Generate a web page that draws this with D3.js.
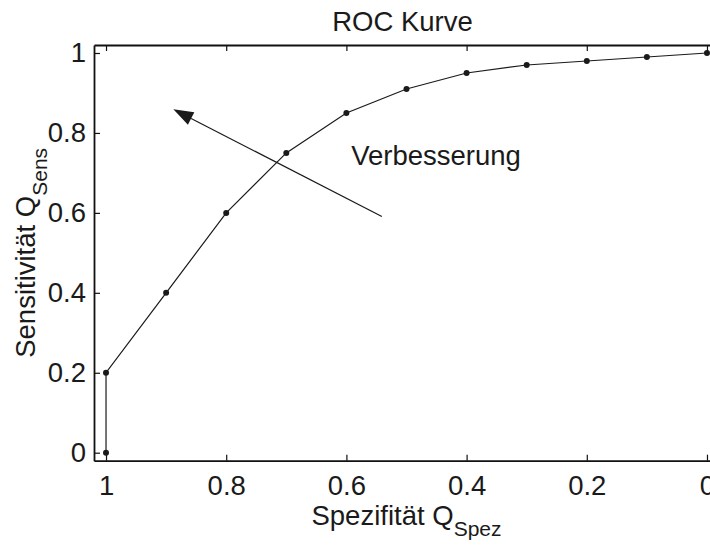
<!DOCTYPE html>
<html>
<head>
<meta charset="utf-8">
<script src="https://cdn.jsdelivr.net/npm/d3@7"></script>
<style>
  body { margin: 0; background: #fff; }
  text { font-family: "Liberation Sans", Arial, Helvetica, sans-serif; fill: #1a1a1a; }
</style>
</head>
<body>
<div id="chart"></div>
<script>
// ROC curve data (Spezifität vs Sensitivität)
let spez = [1, 1, 0.9, 0.8, 0.7, 0.6, 0.5, 0.4, 0.3, 0.2, 0.1, 0];
let sens = [0, 0.2, 0.4, 0.6, 0.75, 0.85, 0.91, 0.95, 0.97, 0.98, 0.99, 1];
let xTicks = [1, 0.8, 0.6, 0.4, 0.2, 0];
let yTicks = [0, 0.2, 0.4, 0.6, 0.8, 1];
let arrowFrom = [0.541, 0.591];
let arrowTo = [0.888, 0.859];
let note = { x: 0.592, y: 0.72, text: "Verbesserung" };

let svgWidth = 710;
let svgHeight = 545;

let margin = { top: 45, right: -9, bottom: 84.3, left: 94 };
let width = svgWidth - margin.left - margin.right;
let height = svgHeight - margin.top - margin.bottom;

let fontBig = "27.5px";
let fontSub = "21px";

let svg = d3.select("#chart")
    .append("svg")
    .attr("width", svgWidth)
    .attr("height", svgHeight);

let chartGroup = svg.append("g")
    .attr("transform", `translate(${margin.left}, ${margin.top})`);

let xScale = d3.scaleLinear().domain([1.02, -0.02]).range([0, width]);
let yScale = d3.scaleLinear().domain([-0.02, 1.02]).range([height, 0]);

let fmt = d => d === 0 || d === 1 ? String(d) : d3.format(".1f")(d);

// axes, ticks pointing inward like matlab
let bottomAxis = d3.axisBottom(xScale).tickValues(xTicks).tickFormat(fmt)
    .tickSizeInner(-6).tickSizeOuter(0).tickPadding(15);
let topAxis = d3.axisTop(xScale).tickValues(xTicks).tickFormat("")
    .tickSizeInner(-6).tickSizeOuter(0);
let leftAxis = d3.axisLeft(yScale).tickValues(yTicks).tickFormat(fmt)
    .tickSizeInner(-6).tickSizeOuter(0).tickPadding(8);
let rightAxis = d3.axisRight(yScale).tickValues(yTicks).tickFormat("")
    .tickSizeInner(-6).tickSizeOuter(0);

let gx = chartGroup.append("g").attr("transform", `translate(0, ${height})`).call(bottomAxis);
let gt = chartGroup.append("g").call(topAxis);
let gy = chartGroup.append("g").call(leftAxis);
let gr = chartGroup.append("g").attr("transform", `translate(${width}, 0)`).call(rightAxis);

[gx, gt, gy, gr].forEach(g => {
    g.select(".domain").attr("stroke", "#111").attr("stroke-width", 1.8);
    g.selectAll(".tick line").attr("stroke", "#111").attr("stroke-width", 1.2);
    g.selectAll("text").attr("font-size", fontBig).attr("fill", "#1a1a1a")
        .attr("font-family", "'Liberation Sans', Arial, sans-serif");
});

// curve
let pts = spez.map((s, i) => [s, sens[i]]);
let line = d3.line().x(d => xScale(d[0])).y(d => yScale(d[1]));

chartGroup.append("path")
    .datum(pts)
    .attr("d", line)
    .attr("fill", "none")
    .attr("stroke", "#1a1a1a")
    .attr("stroke-width", 1.2);

chartGroup.selectAll("circle")
    .data(pts)
    .enter()
    .append("circle")
    .attr("cx", d => xScale(d[0]))
    .attr("cy", d => yScale(d[1]))
    .attr("r", 3)
    .attr("fill", "#1a1a1a");

// arrow
let ax0 = xScale(arrowFrom[0]), ay0 = yScale(arrowFrom[1]);
let ax1 = xScale(arrowTo[0]), ay1 = yScale(arrowTo[1]);
let ang = Math.atan2(ay1 - ay0, ax1 - ax0);
let headLen = 20, headW = 7;
let bx = ax1 - headLen * Math.cos(ang), by = ay1 - headLen * Math.sin(ang);

chartGroup.append("line")
    .attr("x1", ax0).attr("y1", ay0)
    .attr("x2", bx).attr("y2", by)
    .attr("stroke", "#1a1a1a")
    .attr("stroke-width", 1.2);

chartGroup.append("polygon")
    .attr("points", [
        [ax1, ay1],
        [bx + headW * Math.sin(ang), by - headW * Math.cos(ang)],
        [bx - headW * Math.sin(ang), by + headW * Math.cos(ang)]
    ].map(p => p.join(",")).join(" "))
    .attr("fill", "#1a1a1a");

chartGroup.append("text")
    .attr("x", xScale(note.x))
    .attr("y", yScale(note.y))
    .attr("font-size", fontBig)
    .text(note.text);

// title and labels
chartGroup.append("text")
    .attr("x", width / 2 - 4)
    .attr("y", -14)
    .attr("text-anchor", "middle")
    .attr("font-size", fontBig)
    .text("ROC Kurve");

let xl = chartGroup.append("text")
    .attr("x", width / 2)
    .attr("y", height + 64)
    .attr("text-anchor", "middle")
    .attr("font-size", fontBig);
xl.append("tspan").text("Spezifität Q");
xl.append("tspan").attr("font-size", fontSub).attr("dy", 11).text("Spez");

let yl = chartGroup.append("text")
    .attr("transform", `translate(${35 - margin.left}, ${height / 2}) rotate(-90)`)
    .attr("text-anchor", "middle")
    .attr("font-size", fontBig);
yl.append("tspan").text("Sensitivität Q");
yl.append("tspan").attr("font-size", fontSub).attr("dy", 12).text("Sens");
</script>
</body>
</html>
